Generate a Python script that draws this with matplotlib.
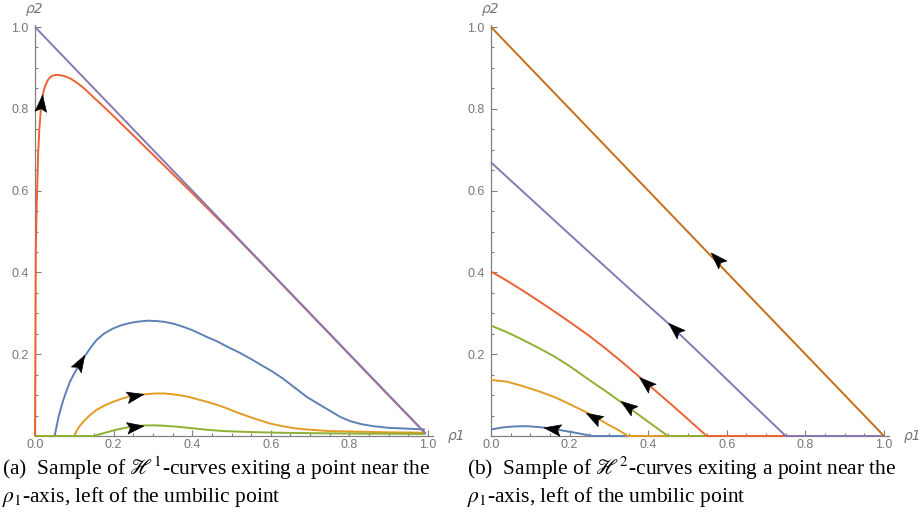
import numpy as np
import matplotlib

matplotlib.use("Agg")
import matplotlib.pyplot as plt  # noqa: E402
from matplotlib.markers import MarkerStyle  # noqa: E402
from matplotlib.path import Path  # noqa: E402
from matplotlib.ticker import MultipleLocator  # noqa: E402
from matplotlib.transforms import Affine2D  # noqa: E402

plt.rcParams["mathtext.fontset"] = "stix"

# H1 curves (panel a), listed in the direction of the flow
h1_blue_x = [0.0, 0.05, 0.055, 0.06, 0.066, 0.072, 0.08, 0.089, 0.1, 0.11, 0.12, 0.13, 0.143, 0.157,
             0.175, 0.199, 0.22, 0.245, 0.265, 0.288, 0.31, 0.33, 0.355, 0.377, 0.4, 0.42, 0.44, 0.462,
             0.49, 0.522, 0.55, 0.573, 0.6, 0.63, 0.66, 0.691, 0.72, 0.75, 0.776, 0.8, 0.83, 0.861,
             0.9, 0.946, 0.992]
h1_blue_y = [0.0, 0.0, 0.024, 0.047, 0.068, 0.088, 0.11, 0.133, 0.153, 0.17, 0.186, 0.2, 0.218, 0.235,
             0.25, 0.263, 0.271, 0.277, 0.28, 0.282, 0.281, 0.279, 0.274, 0.267, 0.259, 0.25, 0.241, 0.232,
             0.218, 0.203, 0.188, 0.175, 0.16, 0.141, 0.119, 0.096, 0.079, 0.062, 0.047, 0.037, 0.029, 0.024,
             0.02, 0.018, 0.016]

h1_orange_x = [0.0, 0.1, 0.106, 0.115, 0.125, 0.14, 0.157, 0.178, 0.2, 0.22, 0.242, 0.27, 0.305, 0.33,
               0.35, 0.373, 0.394, 0.42, 0.44, 0.46, 0.479, 0.5, 0.522, 0.545, 0.57, 0.6, 0.63, 0.66,
               0.691, 0.72, 0.75, 0.8, 0.85, 0.9, 0.95, 0.992]
h1_orange_y = [0.0, 0.0, 0.013, 0.026, 0.037, 0.051, 0.064, 0.075, 0.084, 0.091, 0.097, 0.101, 0.104, 0.104,
               0.102, 0.099, 0.095, 0.088, 0.083, 0.077, 0.071, 0.063, 0.055, 0.047, 0.039, 0.03, 0.024, 0.019,
               0.016, 0.014, 0.012, 0.011, 0.01, 0.009, 0.0085, 0.008]

h1_green_x = [0.0, 0.15, 0.16, 0.175, 0.19, 0.205, 0.22, 0.235, 0.25, 0.265, 0.284, 0.305, 0.33, 0.35,
              0.37, 0.39, 0.41, 0.43, 0.454, 0.48, 0.51, 0.54, 0.573, 0.62, 0.7, 0.8, 0.9, 0.992]
h1_green_y = [0.0, 0.0, 0.003, 0.007, 0.011, 0.015, 0.018, 0.021, 0.0235, 0.025, 0.026, 0.026, 0.025, 0.0235,
              0.022, 0.02, 0.018, 0.016, 0.014, 0.012, 0.011, 0.01, 0.009, 0.008, 0.007, 0.006, 0.0055, 0.005]

h1_red_x = [0.0, 0.001, 0.002, 0.004, 0.006, 0.008, 0.011, 0.015, 0.02, 0.025, 0.032, 0.038, 0.047, 0.059,
            0.075, 0.09, 0.105, 0.12, 0.135, 0.15, 0.175, 0.2, 0.25, 0.3, 0.35, 0.4, 0.45, 0.5, 0.6, 0.7,
            0.8, 0.9, 0.992]
h1_red_y = [0.0, 0.2, 0.45, 0.55, 0.62, 0.69, 0.75, 0.8, 0.835, 0.854, 0.869, 0.877, 0.882, 0.883,
            0.88, 0.874, 0.865, 0.854, 0.841, 0.827, 0.805, 0.782, 0.735, 0.688, 0.641, 0.594, 0.546, 0.498,
            0.399, 0.299, 0.199, 0.099, 0.008]

h1_purple_x = [0.0, 0.995]
h1_purple_y = [1.0, 0.005]

h1_arrows_x = [0.113, 0.25, 0.25, 0.016]
h1_arrows_y = [0.175, 0.097, 0.023, 0.81]

# H2 curves (panel b), from the rho1-axis up to the rho2-axis
h2_blue_x = [1.0, 0.26, 0.247, 0.22, 0.196, 0.17, 0.145, 0.12, 0.09, 0.06, 0.03, 0.0]
h2_blue_y = [0.0, 0.0, 0.002, 0.007, 0.011, 0.0155, 0.019, 0.022, 0.024, 0.0235, 0.021, 0.016]

h2_orange_x = [1.0, 0.349, 0.325, 0.298, 0.275, 0.247, 0.2, 0.162, 0.12, 0.077, 0.04, 0.0]
h2_orange_y = [0.0, 0.0, 0.014, 0.028, 0.041, 0.056, 0.078, 0.095, 0.11, 0.123, 0.133, 0.137]

h2_green_x = [1.0, 0.45, 0.42, 0.391, 0.36, 0.332, 0.29, 0.247, 0.2, 0.162, 0.12, 0.077, 0.04, 0.0]
h2_green_y = [0.0, 0.0, 0.021, 0.041, 0.063, 0.082, 0.111, 0.139, 0.171, 0.194, 0.216, 0.237, 0.254, 0.27]

h2_red_x = [1.0, 0.549, 0.5, 0.459, 0.43, 0.4, 0.37, 0.332, 0.29, 0.247, 0.2, 0.162, 0.12, 0.08, 0.04, 0.0]
h2_red_y = [0.0, 0.0, 0.042, 0.077, 0.101, 0.126, 0.151, 0.182, 0.215, 0.247, 0.279, 0.304, 0.331, 0.356,
            0.38, 0.402]

h2_purple_x = [1.0, 0.75, 0.65, 0.565, 0.455, 0.35, 0.272, 0.2, 0.1, 0.0]
h2_purple_y = [0.0, 0.0, 0.092, 0.171, 0.272, 0.362, 0.43, 0.493, 0.581, 0.669]

h2_brown_x = [1.0, 0.0]
h2_brown_y = [0.0, 1.0]

h2_arrows_x = [0.16, 0.265, 0.352, 0.398, 0.47, 0.578]
h2_arrows_y = [0.017, 0.045, 0.07, 0.127, 0.259, 0.431]

BLUE = "#5e81b5"
ORANGE = "#e19c24"
GREEN = "#8fb032"
RED = "#eb6235"
PURPLE = "#8778b3"
BROWN = "#c56e1a"
AXIS_GRAY = "#808080"
LABEL_GRAY = "#777777"

# notched arrowhead pointing along +x
ARROW_PATH = Path(
    [(1.0, 0.0), (-0.6, 0.55), (-0.3, 0.0), (-0.6, -0.55), (1.0, 0.0)],
    [Path.MOVETO, Path.LINETO, Path.LINETO, Path.LINETO, Path.CLOSEPOLY],
)


def style_axes(ax):
    ax.set_xlim(0, 1.012)
    ax.set_ylim(0, 1.004)
    for side in ("top", "right"):
        ax.spines[side].set_visible(False)
    for side in ("left", "bottom"):
        ax.spines[side].set_color(AXIS_GRAY)
        ax.spines[side].set_linewidth(0.9)
        ax.spines[side].set_zorder(1)
    ax.xaxis.set_major_locator(MultipleLocator(0.2))
    ax.xaxis.set_minor_locator(MultipleLocator(0.05))
    ax.yaxis.set_major_locator(MultipleLocator(0.2))
    ax.yaxis.set_minor_locator(MultipleLocator(0.05))
    ax.set_yticks([0.2, 0.4, 0.6, 0.8, 1.0])
    ax.xaxis.set_major_formatter(lambda v, p: f"{v:.1f}")
    ax.yaxis.set_major_formatter(lambda v, p: f"{v:.1f}")
    ax.tick_params(which="both", direction="in", color=AXIS_GRAY, width=0.8,
                   labelcolor=LABEL_GRAY, labelsize=9)
    ax.tick_params(which="major", length=4.5, pad=4.5)
    ax.tick_params(axis="x", which="major", pad=2.5)
    ax.tick_params(which="minor", length=2.5)
    for lab in ax.get_xticklabels() + ax.get_yticklabels():
        lab.set_fontfamily("Liberation Sans")
    ax.patch.set_alpha(0)
    ax.text(1.05, 0.0, "ρ1", transform=ax.transData, color=LABEL_GRAY, fontsize=10,
            style="italic", ha="left", va="center", clip_on=False)
    ax.text(0.0, 1.028, "ρ2", transform=ax.transData, color=LABEL_GRAY, fontsize=10,
            style="italic", ha="center", va="bottom", clip_on=False)


def draw_arrows(ax, curves, ax_x, ax_y):
    for (cx, cy), px, py in zip(curves, ax_x, ax_y):
        pts = np.column_stack([cx, cy])
        i = int(np.argmin(np.hypot(pts[:, 0] - px, pts[:, 1] - py)))
        a = pts[max(i - 1, 0)]
        b = pts[min(i + 1, len(pts) - 1)]
        da, db = ax.transData.transform([a, b])
        ang = np.degrees(np.arctan2(db[1] - da[1], db[0] - da[0]))
        m = MarkerStyle(ARROW_PATH, transform=Affine2D().rotate_deg(ang))
        ax.plot([px], [py], marker=m, ms=15, color="black", mec="black", mew=0.5,
                linestyle="none", zorder=5, clip_on=False)


fig = plt.figure(figsize=(9.21, 5.21), dpi=100)
W, H = 921, 521
ax_a = fig.add_axes([35 / W, 85 / H, 393 * 1.012 / W, 409 * 1.004 / H])
ax_b = fig.add_axes([491 / W, 85 / H, 393 * 1.012 / W, 409 * 1.004 / H])

curves_a = [
    (h1_blue_x, h1_blue_y, BLUE),
    (h1_orange_x, h1_orange_y, ORANGE),
    (h1_green_x, h1_green_y, GREEN),
    (h1_red_x, h1_red_y, RED),
    (h1_purple_x, h1_purple_y, PURPLE),
]
curves_b = [
    (h2_blue_x, h2_blue_y, BLUE),
    (h2_orange_x, h2_orange_y, ORANGE),
    (h2_green_x, h2_green_y, GREEN),
    (h2_red_x, h2_red_y, RED),
    (h2_purple_x, h2_purple_y, PURPLE),
    (h2_brown_x, h2_brown_y, BROWN),
]

for ax, curves in ((ax_a, curves_a), (ax_b, curves_b)):
    style_axes(ax)
    for x, y, c in curves:
        ax.plot(x, y, color=c, lw=1.4, zorder=3, clip_on=False,
                solid_capstyle="butt", solid_joinstyle="round")

draw_arrows(ax_a, [(c[0], c[1]) for c in curves_a[:4]], h1_arrows_x, h1_arrows_y)
draw_arrows(ax_b, [(c[0], c[1]) for c in curves_b], h2_arrows_x, h2_arrows_y)

cap_kw = dict(fontsize=15.5, family="Liberation Serif", ha="left", va="baseline")
fig.text(2 / W, 1 - 475 / H, r"(a)  Sample of $\mathscr{H}^1$-curves exiting a point near the", **cap_kw)
fig.text(2 / W, 1 - 502 / H, r"$\rho_1$-axis, left of the umbilic point", **cap_kw)
fig.text(467 / W, 1 - 475 / H, r"(b)  Sample of $\mathscr{H}^2$-curves exiting a point near the", **cap_kw)
fig.text(467 / W, 1 - 502 / H, r"$\rho_1$-axis, left of the umbilic point", **cap_kw)

fig.savefig("out.png", dpi=100)
